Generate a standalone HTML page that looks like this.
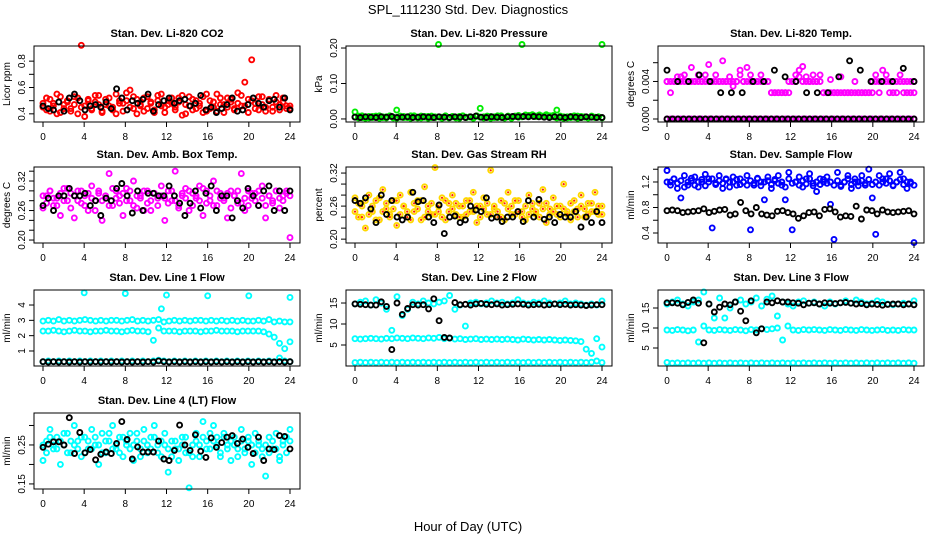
<!DOCTYPE html>
<html><head><meta charset="utf-8"><style>
body{margin:0;background:#fff;}
svg{display:block;font-family:"Liberation Sans",Arial,sans-serif;}
</style></head><body>
<svg id="chart" width="936" height="540" viewBox="0 0 936 540" xmlns="http://www.w3.org/2000/svg">
<rect width="936" height="540" fill="#fff"/>
<text x="468" y="14" text-anchor="middle" font-size="13">SPL_111230  Std. Dev. Diagnostics</text>
<text x="468" y="531" text-anchor="middle" font-size="13">Hour of Day (UTC)</text>
<g id="plots"></g>
</svg>
<script>
const xTicks = [0,4,8,12,16,20,24];
const panelTitles = ["Stan. Dev. Li-820 CO2","Stan. Dev. Li-820 Pressure","Stan. Dev. Li-820 Temp.","Stan. Dev. Amb. Box Temp.","Stan. Dev. Gas Stream RH","Stan. Dev. Sample Flow","Stan. Dev. Line 1 Flow","Stan. Dev. Line 2 Flow","Stan. Dev. Line 3 Flow","Stan. Dev. Line 4 (LT) Flow"];
const yAxisTitles = ["Licor ppm","kPa","degrees C","degrees C","percent","ml/min","ml/min","ml/min","ml/min","ml/min"];
const yTickValues = [[0.4,0.5,0.6,0.7,0.8],[0,0.1,0.2],[0,0.002,0.004,0.006],[0.2,0.22,0.24,0.26,0.28,0.3,0.32,0.34],[0.2,0.22,0.24,0.26,0.28,0.3,0.32],[0.4,0.6,0.8,1.0,1.2,1.4],[1,2,3,4],[5,10,15],[5,10,15],[0.15,0.2,0.25,0.3]];
const yTickLabels = [["0.4","","0.6","","0.8"],["0.00","0.10","0.20"],["0.000","","0.004",""],["0.20","","","0.26","","","0.32",""],["0.20","","","0.26","","","0.32"],["0.4","","0.8","","1.2",""],["1","2","3","4"],["5","10","15"],["5","10","15"],["0.15","","0.25",""]];
const yLimits = [[0.338,0.915],[-0.0086,0.2057],[-0.00032,0.00778],[0.194,0.3485],[0.193,0.331],[0.243,1.435],[0.02,4.98],[0,18.1],[0.5,19.5],[0.137,0.332]];

const co2Red = [0.45,0.52,0.42,0.48,0.55,0.41,0.47,0.50,0.44,0.53,0.40,0.92,0.46,0.51,0.43,0.49,0.54,0.42,0.47,0.52,0.45,0.40,0.50,0.48,0.56,0.58,0.44,0.51,0.46,0.42,0.53,0.48,0.41,0.50,0.55,0.45,0.47,0.52,0.43,0.49,0.54,0.40,0.46,0.51,0.44,0.48,0.53,0.42,0.50,0.45,0.55,0.47,0.41,0.52,0.49,0.44,0.56,0.46,0.64,0.51,0.81,0.48,0.43,0.53,0.45,0.50,0.42,0.54,0.47,0.49,0.44,0.46];
const co2Red2 = [0.48,0.43,0.51,0.46,0.40,0.53,0.44,0.49,0.42,0.47,0.52,0.45,0.38,0.50,0.44,0.54,0.47,0.41,0.51,0.46,0.43,0.55,0.48,0.42,0.50,0.45,0.53,0.40,0.47,0.52,0.44,0.49,0.43,0.54,0.46,0.41,0.50,0.48,0.45,0.52,0.39,0.47,0.53,0.43,0.50,0.46,0.41,0.55,0.44,0.49,0.42,0.52,0.47,0.45,0.51,0.43,0.48,0.54,0.46,0.41,0.50,0.44,0.53,0.47,0.42,0.51,0.45,0.49,0.43,0.52,0.46,0.44];
const co2Black = [0.46,0.44,0.43,0.49,0.42,0.52,0.55,0.50,0.43,0.46,0.47,0.45,0.49,0.44,0.59,0.52,0.43,0.50,0.48,0.51,0.55,0.42,0.47,0.50,0.52,0.48,0.50,0.51,0.46,0.48,0.54,0.43,0.45,0.41,0.44,0.47,0.52,0.42,0.43,0.47,0.52,0.48,0.45,0.50,0.51,0.45,0.52,0.43];
const presGreen = [0.02,0.008,0.004,0.006,0.003,0.007,0.005,0.009,0.004,0.006,0.008,0.003,0.025,0.005,0.007,0.004,0.009,0.006,0.003,0.008,0.005,0.007,0.004,0.006,0.21,0.005,0.008,0.004,0.006,0.003,0.007,0.009,0.005,0.006,0.004,0.008,0.03,0.006,0.005,0.007,0.004,0.009,0.006,0.003,0.008,0.005,0.007,0.01,0.21,0.008,0.01,0.009,0.007,0.01,0.008,0.009,0.007,0.01,0.025,0.004,0.006,0.003,0.007,0.005,0.008,0.004,0.006,0.003,0.007,0.005,0.006,0.21];
const presGreen2 = [0.006,0.003,0.009,0.002,0.007,0.004,0.008,0.002,0.006,0.003,0.009,0.005,0.002,0.008,0.004,0.006,0.002,0.009,0.005,0.003,0.007,0.002,0.008,0.004,0.006,0.002,0.009,0.003,0.007,0.005,0.002,0.008,0.004,0.006,0.002,0.009,0.005,0.003,0.008,0.002,0.006,0.004,0.009,0.003,0.007,0.002,0.008,0.005,0.006,0.011,0.007,0.012,0.008,0.011,0.007,0.012,0.009,0.006,0.003,0.008,0.002,0.006,0.004,0.009,0.002,0.007,0.005,0.003,0.008,0.004,0.006,0.003];
const presBlack = [0.005,0.004,0.006,0.005,0.004,0.006,0.005,0.007,0.004,0.005,0.006,0.004,0.005,0.006,0.005,0.004,0.006,0.005,0.004,0.006,0.005,0.004,0.006,0.008,0.005,0.004,0.006,0.005,0.004,0.006,0.007,0.006,0.007,0.006,0.007,0.006,0.005,0.004,0.006,0.005,0.004,0.006,0.005,0.004,0.006,0.005,0.004,0.004];
const tempMagentaHi = [0.004,0.0028,0.004,0.0045,0.004,0.0047,0.004,0.0055,0.004,0.0047,0.004,0.004,0.0058,0.004,0.0047,0.004,0.0062,0.004,0.0045,0.0035,0.004,0.0052,0.004,0.0055,0.0047,0.004,0.004,0.0047,0.004,0.004,0.0028,0.0028,0.0028,0.0028,0.0028,0.004,0.004,0.0047,0.0052,0.0056,0.0045,0.004,0.0047,0.004,0.0047,0.0028,0.0028,0.0042,0.0028,0.0028,0.0045,0.0028,0.0028,0.0028,0.004,0.0028,0.0028,0.0028,0.0028,0.004,0.0047,0.004,0.0052,0.0047,0.004,0.0028,0.004,0.0047,0.004,0.0028,0.004,0.0028];
const tempMagentaHi2 = [0.004,0.004,0.004,0.004,0.0045,0.004,0.004,0.004,0.004,0.004,0.004,0.0047,0.004,0.004,0.004,0.004,0.004,0.004,0.004,0.004,0.004,0.0047,0.004,0.004,0.004,0.004,0.004,0.004,0.004,0.004,0.0028,0.0028,0.0028,0.0028,0.0028,0.0028,0.004,0.004,0.0045,0.004,0.004,0.004,0.004,0.004,0.004,0.0028,0.0028,0.0028,0.0028,0.0028,0.0028,0.0028,0.0028,0.0028,0.0028,0.0028,0.0028,0.0028,0.0028,0.0028,0.004,0.0028,0.004,0.004,0.0028,0.004,0.0028,0.004,0.0028,0.004,0.0028,0.004];
const tempMagentaZero = [0,0,0,0,0,0,0,0,0,0,0,0,0,0,0,0,0,0,0,0,0,0,0,0,0,0,0,0,0,0,0,0,0,0,0,0,0,0,0,0,0,0,0,0,0,0,0,0,0,0,0,0,0,0,0,0,0,0,0,0,0,0,0,0,0,0,0,0,0,0,0,0];
const tempBlackHi = [0.0052,0.004,0.004,0.0047,0.004,0.0028,0.0028,0.0028,0.004,0.004,0.0052,0.0045,0.004,0.0028,0.0028,0.0028,0.0045,0.0062,0.0052,0.004,0.004,0.004,0.0054,0.004];
const tempBlackZero = [0,0,0,0,0,0,0,0,0,0,0,0,0,0,0,0,0,0,0,0,0,0,0,0,0,0,0,0,0,0,0,0,0,0,0,0,0,0,0,0,0,0,0,0,0,0];
const ambMagenta = [0.265,0.29,0.3,0.27,0.285,0.25,0.305,0.28,0.295,0.245,0.3,0.275,0.29,0.26,0.31,0.28,0.295,0.24,0.285,0.335,0.27,0.3,0.29,0.25,0.305,0.28,0.32,0.265,0.29,0.3,0.275,0.26,0.295,0.285,0.31,0.24,0.3,0.28,0.34,0.27,0.29,0.305,0.26,0.295,0.285,0.31,0.25,0.3,0.28,0.32,0.27,0.295,0.285,0.245,0.3,0.29,0.275,0.335,0.26,0.3,0.285,0.295,0.27,0.31,0.245,0.29,0.28,0.3,0.265,0.29,0.3,0.205];
const ambMagenta2 = [0.29,0.275,0.3,0.285,0.27,0.295,0.28,0.305,0.265,0.29,0.28,0.3,0.27,0.295,0.285,0.26,0.3,0.28,0.29,0.27,0.305,0.285,0.275,0.295,0.28,0.3,0.27,0.29,0.285,0.26,0.3,0.28,0.295,0.27,0.29,0.285,0.275,0.3,0.28,0.265,0.295,0.285,0.3,0.27,0.29,0.28,0.305,0.275,0.29,0.27,0.3,0.285,0.28,0.295,0.265,0.29,0.3,0.275,0.285,0.27,0.295,0.28,0.3,0.285,0.27,0.29,0.275,0.3,0.285,0.28,0.295,0.29];
const ambBlack = [0.27,0.285,0.26,0.29,0.29,0.305,0.29,0.29,0.295,0.27,0.28,0.25,0.285,0.28,0.305,0.315,0.29,0.255,0.3,0.26,0.295,0.295,0.29,0.29,0.31,0.29,0.275,0.25,0.275,0.3,0.265,0.295,0.31,0.26,0.29,0.29,0.245,0.28,0.265,0.305,0.29,0.27,0.3,0.31,0.26,0.3,0.26,0.3];
const rhYellow = [0.275,0.24,0.26,0.22,0.28,0.25,0.27,0.235,0.29,0.255,0.245,0.27,0.225,0.28,0.26,0.24,0.285,0.25,0.27,0.235,0.295,0.26,0.245,0.33,0.25,0.275,0.235,0.265,0.28,0.245,0.26,0.24,0.27,0.25,0.285,0.23,0.26,0.275,0.245,0.325,0.255,0.24,0.27,0.235,0.285,0.26,0.245,0.27,0.25,0.235,0.28,0.255,0.245,0.265,0.29,0.23,0.255,0.275,0.245,0.26,0.3,0.25,0.235,0.27,0.255,0.28,0.24,0.265,0.25,0.285,0.245,0.26];
const rhYellow2 = [0.25,0.265,0.24,0.27,0.245,0.26,0.235,0.275,0.25,0.265,0.24,0.255,0.27,0.245,0.26,0.25,0.235,0.265,0.255,0.27,0.24,0.25,0.265,0.245,0.26,0.24,0.27,0.25,0.255,0.265,0.24,0.26,0.245,0.27,0.25,0.26,0.24,0.255,0.265,0.245,0.26,0.25,0.24,0.265,0.255,0.245,0.27,0.25,0.24,0.26,0.245,0.265,0.25,0.24,0.255,0.265,0.245,0.25,0.26,0.24,0.255,0.245,0.265,0.25,0.24,0.26,0.255,0.245,0.265,0.25,0.26,0.245];
const rhBlack = [0.27,0.265,0.275,0.255,0.23,0.28,0.245,0.27,0.24,0.235,0.24,0.285,0.268,0.27,0.24,0.23,0.262,0.21,0.24,0.242,0.23,0.235,0.26,0.253,0.25,0.275,0.238,0.24,0.232,0.24,0.24,0.25,0.232,0.27,0.24,0.272,0.236,0.24,0.23,0.245,0.24,0.24,0.25,0.222,0.24,0.23,0.25,0.23];
const flowBlue = [1.38,1.2,1.25,1.1,0.95,1.3,1.15,1.22,1.28,1.12,1.2,1.32,1.25,0.48,1.18,1.3,1.1,1.24,1.2,1.28,1.15,1.25,1.2,1.3,0.45,1.15,1.25,1.2,0.92,1.28,1.1,1.22,1.3,1.15,0.92,1.35,0.45,1.2,1.28,1.12,1.25,1.33,1.18,1.05,1.25,1.2,1.28,0.85,0.3,1.35,1.15,1.2,1.3,1.1,1.25,1.2,1.3,1.15,1.4,0.95,0.38,1.3,1.2,1.25,1.33,1.15,1.2,1.35,1.25,1.1,1.2,0.25];
const flowBlue2 = [1.2,1.15,1.25,1.18,1.22,1.12,1.2,1.26,1.15,1.2,1.24,1.14,1.2,1.25,1.16,1.22,1.18,1.25,1.12,1.2,1.24,1.16,1.2,1.15,1.22,1.18,1.26,1.14,1.2,1.22,1.16,1.24,1.18,1.2,1.12,1.25,1.18,1.2,1.15,1.22,1.17,1.25,1.14,1.2,1.16,1.24,1.18,1.2,1.15,1.22,1.13,1.2,1.25,1.16,1.2,1.14,1.22,1.18,1.24,1.16,1.2,1.15,1.25,1.18,1.22,1.14,1.2,1.24,1.16,1.2,1.18,1.15];
const flowBlack = [0.75,0.76,0.75,0.72,0.73,0.74,0.75,0.78,0.72,0.74,0.76,0.77,0.68,0.7,0.88,0.75,0.7,0.8,0.7,0.68,0.67,0.74,0.75,0.72,0.7,0.63,0.67,0.72,0.73,0.67,0.77,0.78,0.73,0.65,0.67,0.66,0.82,0.62,0.76,0.75,0.7,0.76,0.73,0.72,0.73,0.74,0.75,0.7];
const line1Hi = [2.95,3.0,2.95,3.05,2.95,3.0,2.95,3.0,3.05,3.0,2.95,3.0,2.95,3.0,3.0,2.95,3.0,3.05,2.95,3.0,2.95,3.0,3.05,2.9,2.95,3.0,2.95,3.0,2.95,3.0,3.0,2.95,3.0,2.95,3.0,2.95,3.0,2.95,3.0,2.95,2.95,3.0,2.95,3.05,2.9,2.95,2.9,2.9];
const line1Mid = [2.3,2.3,2.35,2.3,2.25,2.3,2.35,2.3,2.3,2.25,2.3,2.3,2.35,2.3,2.3,2.25,2.3,2.35,2.3,2.3,2.25,1.7,2.5,2.3,2.3,2.3,2.25,2.3,2.3,2.3,2.25,2.3,2.3,2.35,2.3,2.3,2.3,2.25,2.3,2.3,2.3,2.3,2.25,2.1,1.9,1.5,1.15,1.6];
const line1Low = [0.3,0.35,0.3,0.35,0.3,0.35,0.3,0.35,0.3,0.35,0.3,0.35,0.3,0.35,0.3,0.35,0.3,0.35,0.3,0.35,0.3,0.35,0.4,0.35,0.3,0.35,0.3,0.35,0.3,0.35,0.3,0.35,0.3,0.35,0.3,0.35,0.3,0.35,0.3,0.35,0.3,0.35,0.3,0.35,0.3,0.55,0.35,0.3];
const line1OutHours = [4,8,12,16,20,24,11.5];
const line1Out = [4.8,4.75,4.65,4.6,4.6,4.5,3.75];
const line1Black = [0.3,0.28,0.3,0.28,0.3,0.28,0.3,0.28,0.3,0.28,0.3,0.28,0.3,0.28,0.3,0.28,0.3,0.28,0.3,0.28,0.3,0.28,0.35,0.3,0.28,0.3,0.28,0.3,0.28,0.3,0.28,0.3,0.28,0.3,0.28,0.3,0.28,0.3,0.28,0.3,0.28,0.3,0.28,0.3,0.28,0.3,0.28,0.3];
const line2Top = [14.8,15.2,15.5,14.5,15.8,15.0,13.5,8.5,16.5,12,13.5,15.2,14.8,15.5,15.0,14.8,15.2,15.5,16.8,13.5,14.5,9.5,15.0,15.2,14.8,15.0,15.5,15.0,15.2,14.8,15.0,15.8,15.0,14.8,15.2,15.0,15.5,15.0,14.8,15.0,15.5,14.8,15.0,14.8,14.5,14.8,14.5,15.5];
const line2Mid = [6.5,6.4,6.5,6.6,6.5,6.4,6.6,6.5,6.7,6.6,6.5,6.7,6.6,6.5,6.7,6.6,6.8,6.5,6.6,6.4,6.5,6.3,6.4,6.5,6.3,6.4,6.3,6.4,6.3,6.4,6.3,6.2,6.4,6.3,6.2,6.3,6.2,6.3,6.2,6.1,6.2,6.1,6.0,5.8,4.0,3.0,6.5,4.5];
const line2Low = [0.8,0.9,0.8,0.9,0.8,0.9,0.8,0.9,0.8,0.9,0.8,0.9,0.8,0.9,0.8,0.9,0.8,0.9,0.8,0.9,0.8,0.9,0.8,0.9,0.8,0.9,0.8,0.9,0.8,0.9,0.8,0.9,0.8,0.9,0.8,0.9,0.8,0.9,0.8,0.9,0.8,0.9,0.8,0.9,0.8,0.9,1.2,0.8];
const line2Black = [14.8,14.7,14.6,14.5,14.5,15.3,14.2,3.9,15.0,12.3,13.7,14.6,14.5,14.6,13.6,16.0,10.8,6.8,6.7,15.1,14.6,14.7,14.5,14.8,14.9,14.7,14.6,14.8,14.5,14.6,14.7,14.8,14.7,14.5,14.6,14.7,14.5,14.6,14.8,14.6,14.7,14.5,14.6,14.5,14.4,14.5,14.6,14.6];
const line3Top = [16,16.5,17,16,15.5,16.5,17,19,16,12.5,17.5,12.5,15,16.5,17,16,16.5,17.5,15.5,17.2,18,13,16.5,16,15.5,16.5,16.8,16.2,16.5,16,15.5,16.5,16,16.3,16.8,16.2,17,16.5,16,16.2,16.8,16.5,16,15.8,16,16.2,16,16.8];
const line3Mid = [9.5,9.4,9.6,9.5,9.3,9.5,6.5,10.5,9.5,9.4,9.6,9.5,9.4,9.6,9.5,9.3,9.6,9.5,9.8,9.6,9.8,10.0,7.0,10.5,9.5,9.4,9.6,9.5,9.6,9.5,9.4,9.6,9.5,9.4,9.6,9.5,9.4,9.6,9.5,9.4,9.5,9.6,9.4,9.5,9.4,9.6,9.5,9.5];
const line3Low = [1.4,1.2,1.3,1.2,1.3,1.2,1.3,1.2,1.3,1.2,1.3,1.2,1.3,1.2,1.3,1.2,1.3,1.2,1.3,1.2,1.3,1.2,1.3,1.2,1.3,1.2,1.3,1.2,1.3,1.2,1.3,1.2,1.3,1.2,1.3,1.2,1.3,1.2,1.3,1.2,1.3,1.2,1.3,1.2,1.3,1.2,1.3,1.2];
const line3Black = [16.3,16.3,16.2,15.8,16.4,17.0,16.2,6.3,16.0,14.0,15.2,16.0,15.8,16.5,14.2,11.8,16.8,8.8,9.8,16.5,16.3,16.8,16.5,16.5,16.3,16.2,15.8,16.2,16.3,16.0,16.3,16.2,16.1,16.3,16.4,16.2,16.0,16.1,15.8,16.0,15.9,15.7,15.9,16.0,16.0,15.8,16.0,15.8];
const line4Cyan = [0.21,0.26,0.29,0.24,0.27,0.2,0.25,0.28,0.23,0.3,0.26,0.22,0.27,0.24,0.29,0.25,0.2,0.28,0.23,0.26,0.3,0.24,0.27,0.22,0.25,0.28,0.21,0.26,0.24,0.29,0.23,0.27,0.3,0.25,0.22,0.28,0.18,0.26,0.24,0.21,0.27,0.23,0.14,0.25,0.28,0.22,0.31,0.26,0.24,0.3,0.27,0.22,0.28,0.25,0.21,0.27,0.24,0.29,0.23,0.26,0.2,0.28,0.25,0.22,0.17,0.27,0.24,0.28,0.21,0.26,0.23,0.29];
const line4Cyan2 = [0.25,0.23,0.27,0.25,0.24,0.26,0.28,0.23,0.26,0.25,0.24,0.27,0.23,0.26,0.24,0.27,0.25,0.23,0.26,0.28,0.24,0.25,0.23,0.27,0.26,0.24,0.25,0.28,0.22,0.26,0.25,0.24,0.27,0.23,0.26,0.25,0.24,0.22,0.26,0.24,0.25,0.27,0.23,0.22,0.26,0.25,0.27,0.24,0.28,0.26,0.25,0.23,0.27,0.24,0.26,0.25,0.22,0.26,0.24,0.27,0.25,0.23,0.26,0.24,0.25,0.23,0.26,0.24,0.22,0.25,0.27,0.26];
const line4Black = [0.244,0.252,0.258,0.258,0.25,0.32,0.228,0.282,0.23,0.238,0.212,0.226,0.232,0.228,0.254,0.31,0.264,0.214,0.245,0.232,0.232,0.232,0.26,0.214,0.21,0.236,0.301,0.25,0.236,0.276,0.234,0.218,0.268,0.244,0.256,0.27,0.274,0.254,0.265,0.244,0.228,0.27,0.21,0.24,0.238,0.274,0.272,0.24];

const RED="#ff0000",GRN="#00ee00",MAG="#ff00ff",BLU="#0000ff",CYN="#00ffff",YEL="#ffd800",BLK="#000000";
const panelSeries = [
 [[co2Red,RED],[co2Red2,RED],[co2Black,BLK]],
 [[presGreen,GRN],[presGreen2,GRN],[presBlack,BLK]],
 [[tempMagentaHi,MAG],[tempMagentaHi2,MAG],[tempMagentaZero,MAG],[tempBlackHi,BLK],[tempBlackZero,BLK]],
 [[ambMagenta,MAG],[ambMagenta2,MAG],[ambBlack,BLK]],
 [[rhYellow,YEL],[rhYellow2,YEL],[rhBlack,BLK]],
 [[flowBlue,BLU],[flowBlue2,BLU],[flowBlack,BLK]],
 [[line1Hi,CYN],[line1Mid,CYN],[line1Low,CYN],[line1Out,CYN,line1OutHours],[line1Black,BLK]],
 [[line2Top,CYN],[line2Mid,CYN],[line2Low,CYN],[line2Black,BLK]],
 [[line3Top,CYN],[line3Mid,CYN],[line3Low,CYN],[line3Black,BLK]],
 [[line4Cyan,CYN],[line4Cyan2,CYN],[line4Black,BLK]]
];

const NS="http://www.w3.org/2000/svg";
const root=document.getElementById('plots');
function mk(tag,attrs,parent){const e=document.createElementNS(NS,tag);for(const k in attrs)e.setAttribute(k,attrs[k]);parent.appendChild(e);return e;}
const rowTops=[46,167,290,413];
for(let p=0;p<10;p++){
  const col=p%3,row=Math.floor(p/3);
  const L=34+312*col,R=300+312*col,T=rowTops[row],B=T+76;
  const x0=43+312*col,x1=290+312*col;
  const [ymin,ymax]=yLimits[p];
  const sx=h=>x0+(x1-x0)*h/24;
  const sy=v=>B-(v-ymin)/(ymax-ymin)*(B-T);
  const g=mk('g',{},root);
  
  
  const t=mk('text',{x:(L+R)/2,y:T-9,'text-anchor':'middle','font-size':'11','font-weight':'bold'},g);
  t.textContent=panelTitles[p];
  
  
  const yt=mk('text',{x:0,y:0,'text-anchor':'middle','font-size':'10',transform:`translate(${L-24},${(T+B)/2}) rotate(-90)`},g);
  yt.textContent=yAxisTitles[p];
  
  
  const pts=mk('g',{fill:'none','stroke-width':'1.9'},g);
  
  
  panelSeries[p].forEach(s=>{
    const vals=s[0],color=s[1],hrs=s[2];
    vals.forEach((v,i)=>{
      const h=hrs?hrs[i]:i*24/(vals.length-1);
      const c=mk('circle',{cx:sx(h).toFixed(1),cy:sy(v).toFixed(1),r:'2.5',stroke:color},pts);
      
      
      if(color===YEL){
        const d=mk('circle',{cx:sx(h).toFixed(1),cy:sy(v).toFixed(1),r:'1.1',fill:'#ff2000',stroke:'none'},pts);
        
        
      }
    });
  });
  const bx=mk('rect',{x:L,y:T,width:R-L,height:B-T,fill:'none',stroke:'#000','stroke-width':'1'},g);
  
  
  xTicks.forEach(h=>{
    mk('line',{x1:sx(h),x2:sx(h),y1:B,y2:B+5,stroke:'#000'},g);
    const tl=mk('text',{x:sx(h),y:B+18,'text-anchor':'middle','font-size':'10'},g);
    tl.textContent=h;
    
    
  });
  yTickValues[p].forEach((v,i)=>{
    const y=sy(v);
    mk('line',{x1:L-5,x2:L,y1:y,y2:y,stroke:'#000'},g);
    if(yTickLabels[p][i]){
      const tl=mk('text',{x:0,y:0,'text-anchor':'middle','font-size':'10',transform:`translate(${L-9},${y}) rotate(-90)`},g);
      tl.textContent=yTickLabels[p][i];
      
      
    }
  });
}
</script>
</body></html>
